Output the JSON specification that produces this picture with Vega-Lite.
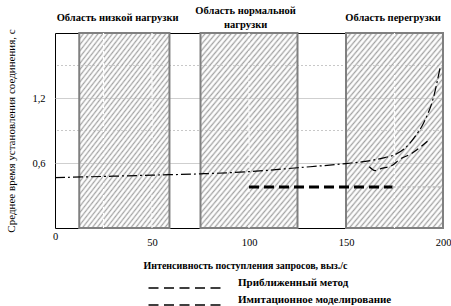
{
  "$schema": "https://vega.github.io/schema/vega-lite/v6.json",
  "width": 388,
  "height": 195,
  "autosize": {"type": "none"},
  "padding": {"left": 55, "top": 33, "right": 8, "bottom": 78},
  "background": "white",
  "config": {
    "font": "Liberation Serif",
    "view": {"stroke": "black", "strokeWidth": 1},
    "axis": {"labelColor": "black", "titleColor": "black", "labelFont": "Liberation Serif", "titleFont": "Liberation Serif"},
    "legend": {"labelFont": "Liberation Serif", "labelColor": "black"}
  },
  "datasets": {
    "regions": [
      {"start": 12.5, "end": 59},
      {"start": 75, "end": 125},
      {"start": 150, "end": 200}
    ],
    "vgrid": [{"rate": 25}, {"rate": 50}, {"rate": 100}, {"rate": 175}],
    "hgrid": [{"time": 0.9}, {"time": 1.5}],
    "curves": [
      {"series": "A", "method": "Приближенный метод", "rate": 0, "time": 0.465},
      {"series": "A", "method": "Приближенный метод", "rate": 25, "time": 0.476},
      {"series": "A", "method": "Приближенный метод", "rate": 50, "time": 0.488},
      {"series": "A", "method": "Приближенный метод", "rate": 75, "time": 0.5},
      {"series": "A", "method": "Приближенный метод", "rate": 100, "time": 0.52},
      {"series": "A", "method": "Приближенный метод", "rate": 125, "time": 0.556},
      {"series": "A", "method": "Приближенный метод", "rate": 150, "time": 0.595},
      {"series": "A", "method": "Приближенный метод", "rate": 160, "time": 0.615},
      {"series": "A", "method": "Приближенный метод", "rate": 170, "time": 0.65},
      {"series": "A", "method": "Приближенный метод", "rate": 175, "time": 0.675},
      {"series": "A", "method": "Приближенный метод", "rate": 180, "time": 0.73},
      {"series": "A", "method": "Приближенный метод", "rate": 185, "time": 0.83},
      {"series": "A", "method": "Приближенный метод", "rate": 190, "time": 0.97},
      {"series": "A", "method": "Приближенный метод", "rate": 195, "time": 1.2},
      {"series": "A", "method": "Приближенный метод", "rate": 198.5, "time": 1.48},
      {"series": "B", "method": "Имитационное моделирование", "rate": 162, "time": 0.565},
      {"series": "B", "method": "Имитационное моделирование", "rate": 165, "time": 0.53},
      {"series": "B", "method": "Имитационное моделирование", "rate": 168, "time": 0.548},
      {"series": "B", "method": "Имитационное моделирование", "rate": 174, "time": 0.58},
      {"series": "B", "method": "Имитационное моделирование", "rate": 177, "time": 0.625},
      {"series": "B", "method": "Имитационное моделирование", "rate": 184, "time": 0.69},
      {"series": "B", "method": "Имитационное моделирование", "rate": 192, "time": 0.8},
      {"series": "C", "method": "Имитационное моделирование", "rate": 100, "time": 0.378},
      {"series": "C", "method": "Имитационное моделирование", "rate": 174, "time": 0.378},
      {"series": "D", "method": "Имитационное моделирование", "rate": 174, "time": 0.378},
      {"series": "D", "method": "Имитационное моделирование", "rate": 200, "time": 0.378}
    ]
  },
  "resolve": {"axis": {"x": "independent"}},
  "layer": [
    {
      "data": {"name": "hgrid"},
      "mark": {"type": "rule", "color": "#c8c8c8", "strokeWidth": 1, "strokeDash": [2, 2]},
      "encoding": {"y": {"field": "time", "type": "quantitative"}}
    },
    {
      "data": {"name": "regions"},
      "mark": {
        "type": "rect",
        "stroke": "#808080",
        "strokeWidth": 2,
        "fill": {
          "gradient": "linear",
          "x1": 0, "y1": 0, "x2": 0.7, "y2": 1.178,
          "stops": [
            {"offset": 0, "color": "#a4a4a4"}, {"offset": 0.01, "color": "rgba(255,255,255,0)"},
            {"offset": 0.02, "color": "#a4a4a4"}, {"offset": 0.03, "color": "rgba(255,255,255,0)"},
            {"offset": 0.04, "color": "#a4a4a4"}, {"offset": 0.05, "color": "rgba(255,255,255,0)"},
            {"offset": 0.06, "color": "#a4a4a4"}, {"offset": 0.07, "color": "rgba(255,255,255,0)"},
            {"offset": 0.08, "color": "#a4a4a4"}, {"offset": 0.09, "color": "rgba(255,255,255,0)"},
            {"offset": 0.10, "color": "#a4a4a4"}, {"offset": 0.11, "color": "rgba(255,255,255,0)"},
            {"offset": 0.12, "color": "#a4a4a4"}, {"offset": 0.13, "color": "rgba(255,255,255,0)"},
            {"offset": 0.14, "color": "#a4a4a4"}, {"offset": 0.15, "color": "rgba(255,255,255,0)"},
            {"offset": 0.16, "color": "#a4a4a4"}, {"offset": 0.17, "color": "rgba(255,255,255,0)"},
            {"offset": 0.18, "color": "#a4a4a4"}, {"offset": 0.19, "color": "rgba(255,255,255,0)"},
            {"offset": 0.20, "color": "#a4a4a4"}, {"offset": 0.21, "color": "rgba(255,255,255,0)"},
            {"offset": 0.22, "color": "#a4a4a4"}, {"offset": 0.23, "color": "rgba(255,255,255,0)"},
            {"offset": 0.24, "color": "#a4a4a4"}, {"offset": 0.25, "color": "rgba(255,255,255,0)"},
            {"offset": 0.26, "color": "#a4a4a4"}, {"offset": 0.27, "color": "rgba(255,255,255,0)"},
            {"offset": 0.28, "color": "#a4a4a4"}, {"offset": 0.29, "color": "rgba(255,255,255,0)"},
            {"offset": 0.30, "color": "#a4a4a4"}, {"offset": 0.31, "color": "rgba(255,255,255,0)"},
            {"offset": 0.32, "color": "#a4a4a4"}, {"offset": 0.33, "color": "rgba(255,255,255,0)"},
            {"offset": 0.34, "color": "#a4a4a4"}, {"offset": 0.35, "color": "rgba(255,255,255,0)"},
            {"offset": 0.36, "color": "#a4a4a4"}, {"offset": 0.37, "color": "rgba(255,255,255,0)"},
            {"offset": 0.38, "color": "#a4a4a4"}, {"offset": 0.39, "color": "rgba(255,255,255,0)"},
            {"offset": 0.40, "color": "#a4a4a4"}, {"offset": 0.41, "color": "rgba(255,255,255,0)"},
            {"offset": 0.42, "color": "#a4a4a4"}, {"offset": 0.43, "color": "rgba(255,255,255,0)"},
            {"offset": 0.44, "color": "#a4a4a4"}, {"offset": 0.45, "color": "rgba(255,255,255,0)"},
            {"offset": 0.46, "color": "#a4a4a4"}, {"offset": 0.47, "color": "rgba(255,255,255,0)"},
            {"offset": 0.48, "color": "#a4a4a4"}, {"offset": 0.49, "color": "rgba(255,255,255,0)"},
            {"offset": 0.50, "color": "#a4a4a4"}, {"offset": 0.51, "color": "rgba(255,255,255,0)"},
            {"offset": 0.52, "color": "#a4a4a4"}, {"offset": 0.53, "color": "rgba(255,255,255,0)"},
            {"offset": 0.54, "color": "#a4a4a4"}, {"offset": 0.55, "color": "rgba(255,255,255,0)"},
            {"offset": 0.56, "color": "#a4a4a4"}, {"offset": 0.57, "color": "rgba(255,255,255,0)"},
            {"offset": 0.58, "color": "#a4a4a4"}, {"offset": 0.59, "color": "rgba(255,255,255,0)"},
            {"offset": 0.60, "color": "#a4a4a4"}, {"offset": 0.61, "color": "rgba(255,255,255,0)"},
            {"offset": 0.62, "color": "#a4a4a4"}, {"offset": 0.63, "color": "rgba(255,255,255,0)"},
            {"offset": 0.64, "color": "#a4a4a4"}, {"offset": 0.65, "color": "rgba(255,255,255,0)"},
            {"offset": 0.66, "color": "#a4a4a4"}, {"offset": 0.67, "color": "rgba(255,255,255,0)"},
            {"offset": 0.68, "color": "#a4a4a4"}, {"offset": 0.69, "color": "rgba(255,255,255,0)"},
            {"offset": 0.70, "color": "#a4a4a4"}, {"offset": 0.71, "color": "rgba(255,255,255,0)"},
            {"offset": 0.72, "color": "#a4a4a4"}, {"offset": 0.73, "color": "rgba(255,255,255,0)"},
            {"offset": 0.74, "color": "#a4a4a4"}, {"offset": 0.75, "color": "rgba(255,255,255,0)"},
            {"offset": 0.76, "color": "#a4a4a4"}, {"offset": 0.77, "color": "rgba(255,255,255,0)"},
            {"offset": 0.78, "color": "#a4a4a4"}, {"offset": 0.79, "color": "rgba(255,255,255,0)"},
            {"offset": 0.80, "color": "#a4a4a4"}, {"offset": 0.81, "color": "rgba(255,255,255,0)"},
            {"offset": 0.82, "color": "#a4a4a4"}, {"offset": 0.83, "color": "rgba(255,255,255,0)"},
            {"offset": 0.84, "color": "#a4a4a4"}, {"offset": 0.85, "color": "rgba(255,255,255,0)"},
            {"offset": 0.86, "color": "#a4a4a4"}, {"offset": 0.87, "color": "rgba(255,255,255,0)"},
            {"offset": 0.88, "color": "#a4a4a4"}, {"offset": 0.89, "color": "rgba(255,255,255,0)"},
            {"offset": 0.90, "color": "#a4a4a4"}, {"offset": 0.91, "color": "rgba(255,255,255,0)"},
            {"offset": 0.92, "color": "#a4a4a4"}, {"offset": 0.93, "color": "rgba(255,255,255,0)"},
            {"offset": 0.94, "color": "#a4a4a4"}, {"offset": 0.95, "color": "rgba(255,255,255,0)"},
            {"offset": 0.96, "color": "#a4a4a4"}, {"offset": 0.97, "color": "rgba(255,255,255,0)"},
            {"offset": 0.98, "color": "#a4a4a4"}, {"offset": 0.99, "color": "rgba(255,255,255,0)"},
            {"offset": 1, "color": "#a4a4a4"}
          ]
        }
      },
      "encoding": {
        "x": {
          "field": "start", "type": "quantitative",
          "axis": {
            "orient": "top",
            "values": [32, 98, 174],
            "labelExpr": "datum.value == 32 ? 'Область низкой нагрузки' : datum.value == 98 ? ['Область нормальной', 'нагрузки'] : 'Область перегрузки'",
            "ticks": false, "domain": false, "grid": false,
            "labelPadding": {"condition": {"test": "datum.value == 98", "value": 23}, "value": 16},
            "labelBaseline": "middle",
            "labelFontWeight": "bold", "labelFontSize": 10.5, "labelLineHeight": 14,
            "labelOverlap": false, "labelFlush": false, "labelBound": false,
            "title": null
          }
        },
        "x2": {"field": "end"}
      }
    },
    {
      "data": {"name": "vgrid"},
      "mark": {"type": "rule", "color": "white", "strokeWidth": 1.2, "strokeDash": [3, 3]},
      "encoding": {"x": {"field": "rate", "type": "quantitative", "axis": null}}
    },
    {
      "data": {"name": "curves"},
      "transform": [{"filter": "datum.series == 'A'"}],
      "mark": {"type": "line", "strokeWidth": 1.2, "strokeDash": [10, 3, 2, 3], "interpolate": "monotone"},
      "encoding": {
        "x": {
          "field": "rate", "type": "quantitative",
          "scale": {"domain": [0, 200], "nice": false},
          "axis": {
            "values": [0, 50, 100, 150, 200],
            "ticks": false, "domain": false, "grid": false,
            "labelFontSize": 10.5, "labelFlush": false,
            "labelPadding": {"condition": {"test": "datum.value == 0", "value": 3}, "value": 9},
            "title": "Интенсивность поступления запросов, выз./с",
            "titleFontSize": 10, "titleFontWeight": "bold", "titlePadding": 13, "titleX": 190
          }
        },
        "y": {
          "field": "time", "type": "quantitative",
          "scale": {"domain": [0, 1.8], "nice": false},
          "axis": {
            "values": [0.6, 1.2],
            "labelExpr": "datum.value == 0.6 ? '0,6' : '1,2'",
            "ticks": false, "domain": false, "grid": true,
            "gridColor": "#cfcfcf", "gridWidth": 1.2,
            "labelFontSize": 10.5, "labelPadding": 10,
            "title": "Среднее время установления соединения, с",
            "titleFontSize": 11, "titleFontWeight": "normal", "titlePadding": 15
          }
        },
        "color": {
          "field": "method", "type": "nominal",
          "scale": {"domain": ["Приближенный метод", "Имитационное моделирование"], "range": ["black", "black"]},
          "legend": {
            "orient": "none", "legendX": 124, "legendY": 244.5,
            "title": null, "padding": 0,
            "symbolType": "M-9,1.25H-6.5M-5.125,1.25H-2.625M-1.25,1.25H1.25M2.625,1.25H5.125M6.5,1.25H9",
            "symbolSize": 64, "symbolStrokeWidth": 1.5, "symbolStrokeColor": "#1f3864",
            "labelFontSize": 11, "labelFontWeight": "bold", "labelOffset": 48, "rowPadding": 2,
            "labelLimit": 400,
            "encode": {"symbols": {"update": {"stroke": {"value": "#1f3864"}, "strokeDash": {"value": []}, "strokeWidth": {"value": 1.5}}}}
          }
        }
      }
    },
    {
      "data": {"name": "curves"},
      "transform": [{"filter": "datum.series == 'B'"}],
      "mark": {"type": "line", "strokeWidth": 1.2, "strokeDash": [8, 4], "interpolate": "monotone"},
      "encoding": {
        "x": {"field": "rate", "type": "quantitative", "axis": null},
        "y": {"field": "time", "type": "quantitative"},
        "color": {"field": "method", "type": "nominal", "legend": null}
      }
    },
    {
      "data": {"name": "curves"},
      "transform": [{"filter": "datum.series == 'C'"}],
      "mark": {"type": "line", "strokeWidth": 3, "strokeDash": [10, 5]},
      "encoding": {
        "x": {"field": "rate", "type": "quantitative", "axis": null},
        "y": {"field": "time", "type": "quantitative"},
        "color": {"field": "method", "type": "nominal", "legend": null}
      }
    },
    {
      "data": {"name": "curves"},
      "transform": [{"filter": "datum.series == 'D'"}],
      "mark": {"type": "line", "strokeWidth": 1.5, "strokeDash": [3, 2], "color": "#bbbbbb"},
      "encoding": {
        "x": {"field": "rate", "type": "quantitative", "axis": null},
        "y": {"field": "time", "type": "quantitative"}
      }
    }
  ]
}
